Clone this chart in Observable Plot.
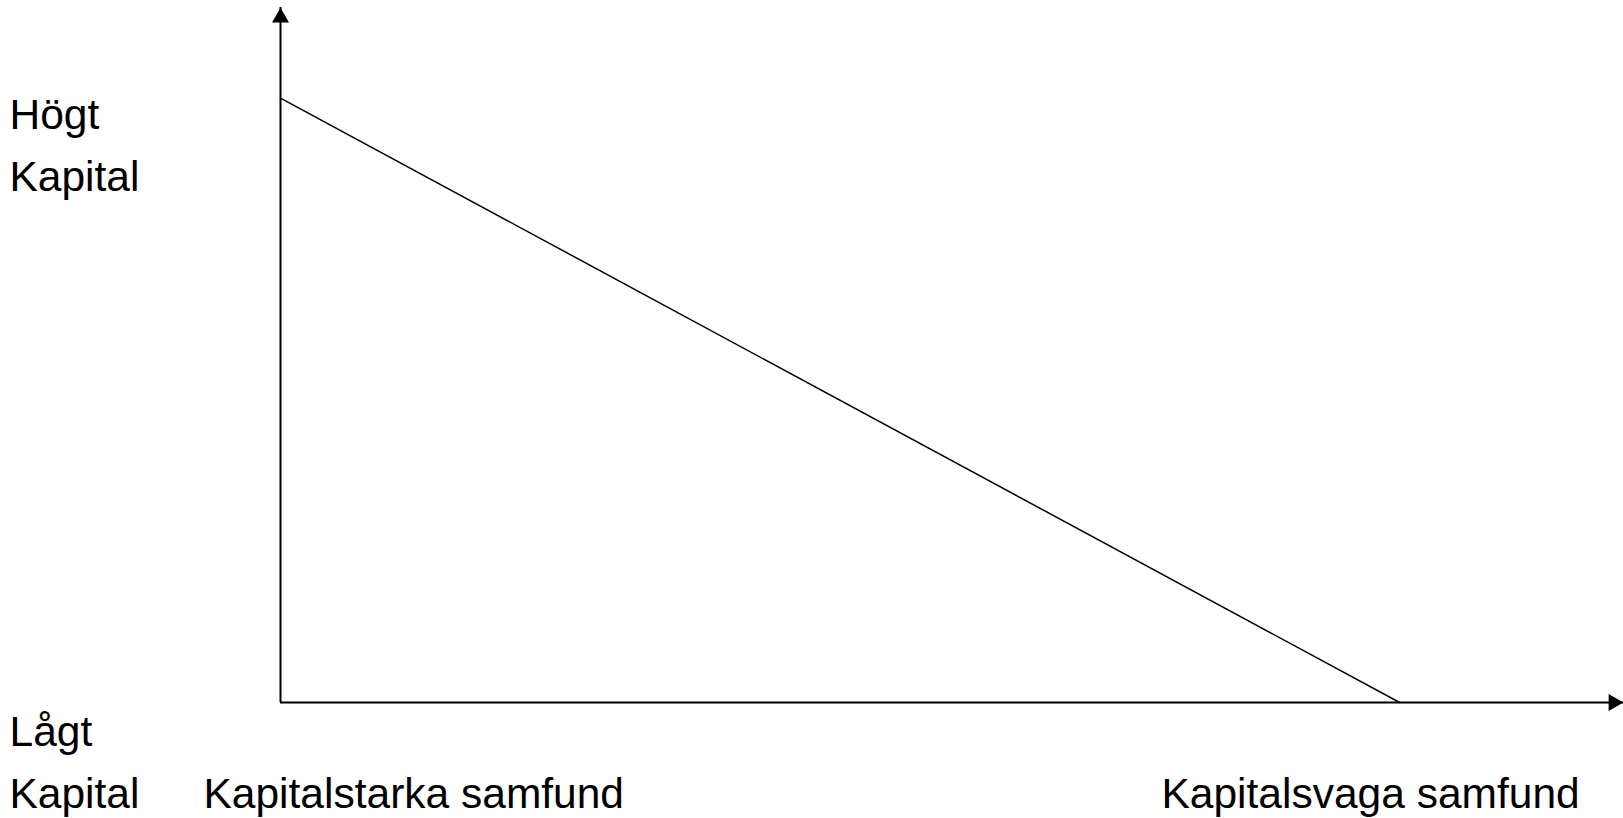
<!DOCTYPE html>
<html>
<head>
<meta charset="utf-8">
<script src="https://cdn.jsdelivr.net/npm/d3@7"></script>
<script src="https://cdn.jsdelivr.net/npm/@observablehq/plot@0.6"></script>
<style>
  html, body { margin: 0; padding: 0; background: #fff; }
  #chart svg { display: block; }
</style>
</head>
<body>
<div id="chart"></div>
<script>
// ---- data ----
const samfundPosition = [0, 100];      // x: kapitalstarka -> kapitalsvaga
const kapitalLevel = [100, 0];         // y: högt -> lågt kapital
const yLabels = ["Högt\nKapital", "Lågt\nKapital"];
const xLabels = ["Kapitalstarka samfund", "Kapitalsvaga samfund"];
const xMax = 120;
const yMax = 115;

const lineData = samfundPosition.map((x, i) => ({x, y: kapitalLevel[i]}));

const FONT = 42.5;
const LH = 61.5 / FONT;

const chart = Plot.plot({
  width: 1623,
  height: 818,
  marginLeft: 280,
  marginRight: 0,
  marginTop: 7,
  marginBottom: 116,
  style: {fontFamily: "'Liberation Sans', Arial, sans-serif", background: "#fff", color: "#000"},
  x: {domain: [0, xMax], axis: null},
  y: {domain: [0, yMax], axis: null},
  marks: [
    // axes
    Plot.ruleX([0], {y1: 0, y2: yMax, stroke: "#000", strokeWidth: 2}),
    Plot.ruleY([0], {x1: 0, x2: xMax, stroke: "#000", strokeWidth: 2}),
    Plot.dot([[0, yMax]], {x: d => d[0], y: d => d[1], symbol: "triangle", r: 6.3, fill: "#000", stroke: "none", dy: 10}),
    Plot.dot([[xMax, 0]], {x: d => d[0], y: d => d[1], symbol: "triangle", r: 6.3, fill: "#000", stroke: "none", rotate: 90, dx: -10}),
    // line
    Plot.line(lineData, {x: "x", y: "y", stroke: "#000", strokeWidth: 1.5}),
    // labels
    Plot.text([yLabels[0]], {text: d => d, frameAnchor: "top-left", textAnchor: "start", lineAnchor: "top",
      dx: -271, dy: 78, fontSize: FONT, lineHeight: LH, fill: "#000"}),
    Plot.text([yLabels[1]], {text: d => d, frameAnchor: "bottom-left", textAnchor: "start", lineAnchor: "top",
      dx: -271, dy: 0, fontSize: FONT, lineHeight: LH, fill: "#000"}),
    Plot.text([xLabels[0]], {text: d => d, frameAnchor: "bottom-left", textAnchor: "start", lineAnchor: "top",
      dx: -77, dy: 75, fontSize: FONT, fill: "#000"}),
    Plot.text([xLabels[1]], {text: d => d, frameAnchor: "bottom-left", textAnchor: "start", lineAnchor: "top",
      dx: 881, dy: 75, fontSize: FONT, fill: "#000"})
  ]
});
document.getElementById("chart").appendChild(chart);
</script>
</body>
</html>
